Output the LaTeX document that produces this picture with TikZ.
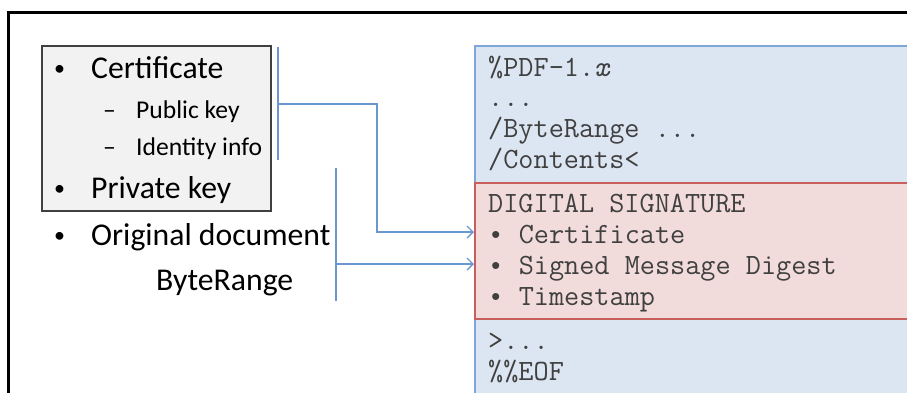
\documentclass[tikz,border=0pt]{standalone}
\usepackage{fontspec}
\setmainfont{Carlito}
\newfontfamily\bulletfont{Liberation Mono}
\usetikzlibrary{arrows.meta}
\definecolor{framegray}{HTML}{404040}
\definecolor{boxgray}{HTML}{F2F2F2}
\definecolor{pdfblue}{HTML}{DCE6F2}
\definecolor{pdfblueline}{HTML}{7EA6D8}
\definecolor{sigred}{HTML}{F2DCDB}
\definecolor{sigredline}{HTML}{C95F5C}
\definecolor{linkblue}{HTML}{6A97D4}
\definecolor{codegray}{HTML}{404040}
% bullet with the advance of one code character
\newcommand{\codebullet}{{\bulletfont\fontsize{25.7}{25.7}\selectfont •}}
\tikzset{
  bigitem/.style={anchor=base west, inner sep=0pt, font=\fontsize{31.7}{31.7}\selectfont},
  smallitem/.style={anchor=base west, inner sep=0pt, font=\fontsize{25.6}{25.6}\selectfont},
  dot/.style={anchor=base west, inner sep=0pt, font=\fontsize{22}{22}\selectfont},
  code/.style={anchor=base west, inner sep=0pt, text=codegray, font=\ttfamily\fontsize{29.4}{29.4}\selectfont},
  link/.style={draw=linkblue, line width=1.3pt},
  linkarrow/.style={link, -{Straight Barb[length=6pt,width=12pt,line width=1.3pt]}}
}
\begin{document}
\begin{tikzpicture}[x=1pt,y=-1pt]
\useasboundingbox (0,0) rectangle (907,392);
% outer frame
\draw[line width=3pt, black] (8,420) -- (8,12) -- (940,12);

% signer's material
\draw[framegray, fill=boxgray, line width=1.3pt] (42,46) rectangle (271,211);
\node[dot] (b1) at (54,75) {•};
\node[bigitem] (cert) at (91,78) {Certificate};
\node[smallitem] (d1) at (103,118) {–};
\node[smallitem] (pub) at (136,118) {Public key};
\node[smallitem] (d2) at (103,155) {–};
\node[smallitem] (ident) at (136,155) {Identity info};
\node[dot] (b2) at (54,195) {•};
\node[bigitem] (priv) at (91,198) {Private key};
\node[dot] (b3) at (54,242) {•};
\node[bigitem] (orig) at (91,245) {Original document};
\node[bigitem] (brange) at (156,290) {ByteRange};

% signed PDF file
\draw[pdfblueline, fill=pdfblue, line width=1.2pt] (475,46) rectangle (940,420);
\draw[sigredline, fill=sigred, line width=1.2pt] (475,183) rectangle (940,319);
\node[code] (l1) at (488,76) {\%PDF-1.\textit{x}};
\node[code] (l2) at (488,106) {...};
\node[code] (l3) at (488,137) {/ByteRange ...};
\node[code] (l4) at (488,168) {/Contents<};
\node[code] (s0) at (488,212) {DIGITAL SIGNATURE};
\node[code] (s1) at (488,243) {\codebullet{} Certificate};
\node[code] (s2) at (488,274) {\codebullet{} Signed Message Digest};
\node[code] (s3) at (488,305) {\codebullet{} Timestamp};
\node[code] (l5) at (488,349) {>...};
\node[code] (l6) at (488,380) {\%\%EOF};

% brackets and links
\coordinate (br1top) at (278,47);
\coordinate (br1bot) at (278,160);
\coordinate (br1mid) at (278,104);
\coordinate (br1turn) at (377,104);
\coordinate (br1down) at (377,232);
\coordinate (tip1) at (474,232);
\coordinate (br2top) at (336,168);
\coordinate (br2bot) at (336,301);
\coordinate (br2mid) at (336,264);
\coordinate (tip2) at (474,264);
\draw[link] (br1top) -- (br1bot);
\draw[linkarrow] (br1mid) -- (br1turn) -- (br1down) -- (tip1);
\draw[link] (br2top) -- (br2bot);
\draw[linkarrow] (br2mid) -- (tip2);
\end{tikzpicture}
\end{document}
